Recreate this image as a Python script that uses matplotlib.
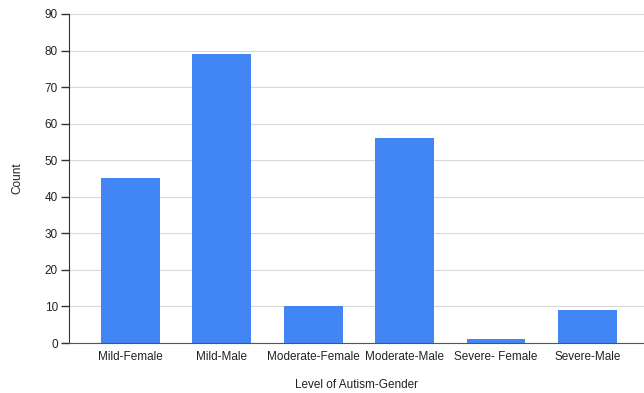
import matplotlib.pyplot as plt

categorias = ['Mild-Female', 'Mild-Male', 'Moderate-Female', 'Moderate-Male',
              'Severe- Female', 'Severe-Male']
contagens = [45, 79, 10, 56, 1, 9]

plt.rcParams['font.family'] = ['Liberation Sans', 'DejaVu Sans']

fig = plt.figure(figsize=(6.44, 3.93), dpi=100)
ax = fig.add_axes([69 / 644, 1 - 343 / 393, 1 - 69 / 644, 329 / 393])

x = range(len(categorias))
ax.bar(x, contagens, width=0.645, color='#4285f4', zorder=3)

ax.set_ylim(0, 90)
ax.set_xlim(-0.673, 5.62)
ax.set_yticks(range(0, 91, 10))
ax.set_xticks(list(x))
ax.set_xticklabels(categorias)
ax.tick_params(axis='y', length=6, width=1, color='#333333', labelsize=8.5,
               labelcolor='#222222', pad=2)
ax.tick_params(axis='x', length=0, labelsize=8.5, labelcolor='#222222', pad=6)

ax.grid(axis='y', color='#d9d9d9', linewidth=0.8, zorder=0)
for lado in ['top', 'right']:
    ax.spines[lado].set_visible(False)
ax.spines['left'].set_color('#333333')
ax.spines['bottom'].set_color('#555555')
ax.spines['bottom'].set_zorder(4)

ax.set_xlabel('Level of Autism-Gender', fontsize=8.5, color='#222222', labelpad=11)
ax.set_ylabel('Count', fontsize=8.5, color='#222222', labelpad=15)

fig.savefig('out.png', dpi=100)
